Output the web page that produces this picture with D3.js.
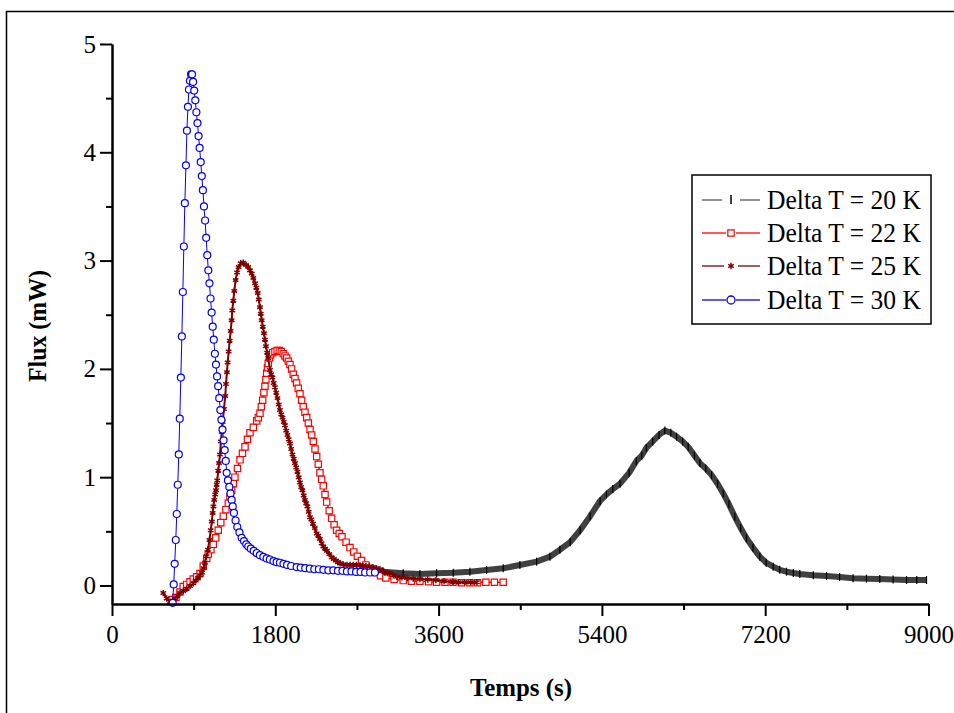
<!DOCTYPE html>
<html><head><meta charset="utf-8">
<script src="https://cdn.jsdelivr.net/npm/d3@7"></script>
<style>body{margin:0;background:#fff}svg{display:block}</style>
</head><body><svg id="c" width="954" height="713"></svg>
<script>
// ---------- data ----------
const seriesNames = ["Delta T = 20 K", "Delta T = 22 K", "Delta T = 25 K", "Delta T = 30 K"];
const xTicks = [0, 1800, 3600, 5400, 7200, 9000];
const xMinor = [900, 2700, 4500, 6300, 8100];
const yTicks = [0, 1, 2, 3, 4, 5];
const yMinor = [0.5, 1.5, 2.5, 3.5, 4.5];
const xTitle = "Temps (s)";
const yTitle = "Flux (mW)";

// [time (s), flux (mW)]
const dT20 = [[2900,0.13],[2990,0.128],[3210,0.113],[3394,0.106],[3578,0.113],[3761,0.118],[3945,0.127],[4129,0.143],[4312,0.159],[4496,0.189],[4680,0.22],
[4827,0.266],[4937,0.33],[5050,0.40],[5160,0.51],[5270,0.64],[5380,0.78],[5450,0.84],[5520,0.89],[5600,0.94],[5700,1.04],
[5780,1.15],[5840,1.20],[5890,1.27],[5960,1.33],[6030,1.39],[6094,1.43],[6160,1.41],[6223,1.374],[6290,1.33],[6351,1.28],
[6420,1.20],[6480,1.13],[6545,1.08],[6609,1.02],[6675,0.94],[6737,0.85],[6800,0.75],[6865,0.635],[6930,0.53],[6994,0.436],
[7065,0.35],[7141,0.266],[7210,0.21],[7288,0.174],[7360,0.145],[7435,0.127],[7510,0.115],[7582,0.106],[7730,0.095],[7876,0.088],
[8020,0.078],[8169,0.066],[8316,0.063],[8463,0.06],[8610,0.055],[8758,0.05],[8870,0.05],[8978,0.05]];

const dT22 = [[661,-0.13],[705,-0.11],[749,-0.06],[785,-0.01],[823,0.01],[860,0.035],[896,0.06],[933,0.08],[970,0.11],[1006,0.18],
[1044,0.25],[1061,0.29],[1090,0.33],[1116,0.38],[1143,0.44],[1171,0.51],[1199,0.58],[1227,0.64],[1255,0.70],[1282,0.76],
[1300,0.82],[1319,0.88],[1337,0.94],[1355,1.00],[1383,1.08],[1411,1.16],[1438,1.22],[1466,1.28],[1493,1.35],[1521,1.41],
[1558,1.46],[1595,1.52],[1613,1.55],[1631,1.59],[1646,1.65],[1661,1.71],[1674,1.78],[1686,1.84],[1696,1.90],[1705,1.96],
[1714,2.01],[1722,2.05],[1736,2.10],[1749,2.13],[1772,2.15],[1796,2.16],[1820,2.17],[1844,2.17],[1866,2.16],[1888,2.14],
[1907,2.12],[1925,2.10],[1944,2.07],[1962,2.04],[1980,2.00],[1998,1.95],[2017,1.91],[2035,1.87],[2053,1.82],[2072,1.77],
[2090,1.71],[2108,1.65],[2127,1.60],[2146,1.55],[2164,1.50],[2183,1.44],[2201,1.39],[2219,1.33],[2238,1.26],[2256,1.19],
[2274,1.12],[2292,1.04],[2311,0.98],[2329,0.92],[2348,0.84],[2366,0.77],[2394,0.69],[2421,0.62],[2448,0.56],[2476,0.51],
[2505,0.48],[2535,0.45],[2580,0.40],[2623,0.35],[2665,0.31],[2705,0.27],[2750,0.23],[2799,0.19],[2850,0.15],[2898,0.12],
[2960,0.09],[3019,0.07],[3110,0.055],[3210,0.045],[3300,0.04],[3394,0.04],[3490,0.035],[3578,0.03],[3670,0.03],[3758,0.03],
[3850,0.025],[3945,0.025],[4030,0.025],[4121,0.03],[4215,0.03],[4312,0.03]];

const dT25 = [[565,-0.07],[603,-0.12],[639,-0.15],[667,-0.14],[694,-0.12],[722,-0.095],[749,-0.07],[786,-0.05],[823,-0.03],[860,-0.005],
[896,0.02],[922,0.045],[948,0.07],[970,0.095],[992,0.12],[1010,0.16],[1025,0.21],[1042,0.27],[1058,0.33],[1074,0.42],
[1088,0.51],[1100,0.59],[1110,0.67],[1118,0.73],[1127,0.79],[1137,0.84],[1146,0.88],[1153,0.93],[1160,0.97],[1171,1.06],
[1180,1.13],[1190,1.21],[1201,1.33],[1210,1.42],[1220,1.51],[1234,1.63],[1249,1.75],[1256,1.86],[1267,1.97],[1275,2.06],
[1286,2.16],[1297,2.26],[1308,2.35],[1319,2.45],[1326,2.54],[1337,2.63],[1348,2.72],[1363,2.82],[1378,2.89],[1396,2.94],
[1418,2.975],[1447,2.98],[1477,2.96],[1502,2.94],[1520,2.91],[1540,2.88],[1558,2.84],[1576,2.79],[1591,2.75],[1606,2.70],
[1618,2.64],[1631,2.57],[1640,2.51],[1650,2.45],[1662,2.39],[1675,2.33],[1686,2.27],[1697,2.21],[1710,2.15],[1722,2.10],
[1741,1.99],[1755,1.95],[1769,1.92],[1782,1.87],[1796,1.83],[1810,1.78],[1824,1.73],[1838,1.67],[1851,1.62],[1865,1.58],
[1879,1.55],[1893,1.51],[1907,1.48],[1920,1.43],[1934,1.39],[1948,1.35],[1962,1.31],[1975,1.26],[1989,1.21],[2003,1.17],
[2017,1.13],[2030,1.09],[2044,1.05],[2058,1.00],[2072,0.95],[2085,0.91],[2099,0.88],[2113,0.83],[2127,0.79],[2140,0.76],
[2154,0.73],[2168,0.68],[2182,0.63],[2198,0.61],[2215,0.57],[2235,0.53],[2256,0.48],[2274,0.46],[2292,0.43],[2310,0.39],
[2329,0.36],[2349,0.34],[2369,0.32],[2395,0.29],[2421,0.26],[2445,0.245],[2468,0.23],[2490,0.215],[2513,0.205],[2550,0.195],
[2590,0.19],[2625,0.19],[2659,0.19],[2695,0.19],[2733,0.185],[2766,0.18],[2799,0.18],[2838,0.175],[2876,0.17],[2915,0.16],
[2953,0.15],[2980,0.135],[3008,0.12],[3036,0.115],[3064,0.11],[3100,0.095],[3141,0.08],[3195,0.075],[3251,0.07],[3320,0.065],
[3394,0.06],[3480,0.055],[3570,0.05],[3660,0.04],[3758,0.035],[3820,0.03],[3890,0.03],[3955,0.03],[4022,0.03]];

const dT30 = [[669,-0.16],[680,0.01],[691,0.20],[703,0.42],[714,0.66],[725,0.93],[736,1.21],[747,1.54],[759,1.92],[770,2.30],
[781,2.71],[792,3.13],[803,3.53],[815,3.88],[826,4.20],[837,4.42],[848,4.58],[859,4.66],[871,4.72],[882,4.72],
[894,4.65],[906,4.57],[918,4.48],[930,4.37],[942,4.27],[954,4.15],[966,4.04],[978,3.91],[990,3.78],[1002,3.65],
[1014,3.50],[1026,3.37],[1038,3.21],[1050,3.05],[1062,2.91],[1074,2.79],[1086,2.65],[1098,2.52],[1110,2.39],[1122,2.27],
[1134,2.14],[1146,2.04],[1158,1.93],[1170,1.84],[1182,1.73],[1194,1.62],[1206,1.53],[1218,1.44],[1230,1.34],[1242,1.25],
[1254,1.15],[1264,1.04],[1278,0.97],[1293,0.91],[1306,0.85],[1319,0.79],[1331,0.73],[1344,0.67],[1362,0.60],[1381,0.54],
[1405,0.49],[1429,0.44],[1455,0.41],[1480,0.38],[1502,0.36],[1530,0.34],[1562,0.32],[1595,0.30],[1630,0.28],[1668,0.265],
[1705,0.25],[1740,0.24],[1780,0.225],[1815,0.215],[1851,0.21],[1890,0.20],[1930,0.19],[1975,0.18],[2035,0.17],[2080,0.165],
[2130,0.16],[2180,0.155],[2230,0.15],[2280,0.15],[2330,0.145],[2385,0.14],[2439,0.14],[2490,0.135],[2540,0.135],[2590,0.13],
[2640,0.13],[2690,0.125],[2740,0.125],[2790,0.12],[2845,0.12],[2898,0.12]];

// ---------- drawing ----------
const svg = d3.select("#c");
const FONT = "'Liberation Serif','Times New Roman',serif";

// outer frame
svg.append("rect").attr("x", 6.5).attr("y", 11.5).attr("width", 1000).attr("height", 800)
  .attr("fill", "none").attr("stroke", "#000").attr("stroke-width", 1.5);

const x = d3.scaleLinear().domain([0, 9000]).range([112, 928.5]);
const y = d3.scaleLinear().domain([-0.171, 5]).range([604, 44]);

const line = d3.line().x(d => x(d[0])).y(d => y(d[1]));
const plot = svg.append("g");

// 20 K (black): dense vertical-bar markers form a band
plot.append("path").datum(dT20).attr("d", line).attr("fill", "none")
  .attr("stroke", "#404040").attr("stroke-width", 6).attr("stroke-linejoin", "round");
plot.append("g").selectAll("line").data(dT20).join("line")
  .attr("x1", d => x(d[0])).attr("x2", d => x(d[0]))
  .attr("y1", d => y(d[1]) - 4).attr("y2", d => y(d[1]) + 4)
  .attr("stroke", "#000").attr("stroke-width", 1.2);

// 22 K (red squares)
plot.append("path").datum(dT22).attr("d", line).attr("fill", "none").attr("stroke", "#ff0000").attr("stroke-width", 1.5);
const sq = d3.symbol().type(d3.symbolSquare).size(40);
plot.append("g").selectAll("path").data(dT22).join("path")
  .attr("transform", d => `translate(${x(d[0])},${y(d[1])})`).attr("d", sq)
  .attr("fill", "#fff").attr("stroke", "#ff0000").attr("stroke-width", 1.2);

// 25 K (wine asterisks)
plot.append("path").datum(dT25).attr("d", line).attr("fill", "none").attr("stroke", "#800000").attr("stroke-width", 2);
const ast = d3.symbol().type(d3.symbolAsterisk).size(28);
plot.append("g").selectAll("path").data(dT25).join("path")
  .attr("transform", d => `translate(${x(d[0])},${y(d[1])})`).attr("d", ast)
  .attr("fill", "none").attr("stroke", "#800000").attr("stroke-width", 1.5);

// 30 K (blue circles)
plot.append("path").datum(dT30).attr("d", line).attr("fill", "none").attr("stroke", "#0000ff").attr("stroke-width", 1);
plot.append("g").selectAll("circle").data(dT30).join("circle")
  .attr("cx", d => x(d[0])).attr("cy", d => y(d[1])).attr("r", 3.5)
  .attr("fill", "#fff").attr("stroke", "#0000ff").attr("stroke-width", 1.2);

// axes
svg.append("g").attr("transform", `translate(0,${y.range()[0]})`)
  .call(d3.axisBottom(x).tickValues(xTicks).tickSize(12).tickSizeOuter(0).tickPadding(9).tickFormat(d3.format("d")));
svg.append("g").attr("transform", `translate(0,${y.range()[0]})`)
  .call(d3.axisBottom(x).tickValues(xMinor).tickSize(6).tickSizeOuter(0).tickFormat(""));
svg.append("g").attr("transform", `translate(${x.range()[0]},0)`)
  .call(d3.axisLeft(y).tickValues(yTicks).tickSize(12).tickSizeOuter(0).tickPadding(4).tickFormat(d3.format("d")));
svg.append("g").attr("transform", `translate(${x.range()[0]},0)`)
  .call(d3.axisLeft(y).tickValues(yMinor).tickSize(6).tickSizeOuter(0).tickFormat(""));
svg.selectAll(".domain, .tick line").attr("stroke", "#000").attr("stroke-width", 2);
svg.selectAll(".tick text").attr("font-family", FONT).attr("font-size", 25).attr("fill", "#000");

// axis titles
svg.append("text").attr("x", 521).attr("y", 696).attr("text-anchor", "middle")
  .attr("font-family", FONT).attr("font-weight", "bold").attr("font-size", 26)
  .attr("textLength", 102).attr("lengthAdjust", "spacingAndGlyphs").text(xTitle);
svg.append("text").attr("transform", "translate(46,326) rotate(-90)").attr("text-anchor", "middle")
  .attr("font-family", FONT).attr("font-weight", "bold").attr("font-size", 26)
  .attr("textLength", 112).attr("lengthAdjust", "spacingAndGlyphs").text(yTitle);

// legend
const leg = svg.append("g");
leg.append("rect").attr("x", 692).attr("y", 175).attr("width", 239).attr("height", 149)
  .attr("fill", "#fff").attr("stroke", "#000").attr("stroke-width", 1.5);
const rowsY = [200, 233, 266, 300];
const lineCol = ["#555", "#ff0000", "#800000", "#0000ff"];
const gaps = [9, 5, 7, 5];
seriesNames.forEach((name, i) => {
  const cy = rowsY[i], mx = 731;
  leg.append("line").attr("x1", 702).attr("x2", mx - gaps[i]).attr("y1", cy).attr("y2", cy).attr("stroke", lineCol[i]).attr("stroke-width", 1.3);
  leg.append("line").attr("x1", mx + gaps[i]).attr("x2", 760).attr("y1", cy).attr("y2", cy).attr("stroke", lineCol[i]).attr("stroke-width", 1.3);
  if (i === 0) leg.append("line").attr("x1", mx).attr("x2", mx).attr("y1", cy - 5).attr("y2", cy + 4).attr("stroke", "#000").attr("stroke-width", 1.5);
  if (i === 1) leg.append("path").attr("transform", `translate(${mx},${cy})`).attr("d", sq).attr("fill", "#fff").attr("stroke", "#ff0000").attr("stroke-width", 1.2);
  if (i === 2) leg.append("path").attr("transform", `translate(${mx},${cy})`).attr("d", ast).attr("fill", "none").attr("stroke", "#800000").attr("stroke-width", 1.4);
  if (i === 3) leg.append("circle").attr("cx", mx).attr("cy", cy).attr("r", 4).attr("fill", "#fff").attr("stroke", "#0000ff").attr("stroke-width", 1.3);
  leg.append("text").attr("x", 767).attr("y", cy + 9).attr("font-family", FONT).attr("font-size", 27)
    .attr("textLength", 154).attr("lengthAdjust", "spacingAndGlyphs").attr("fill", "#000").text(name);
});
</script>
</body></html>
